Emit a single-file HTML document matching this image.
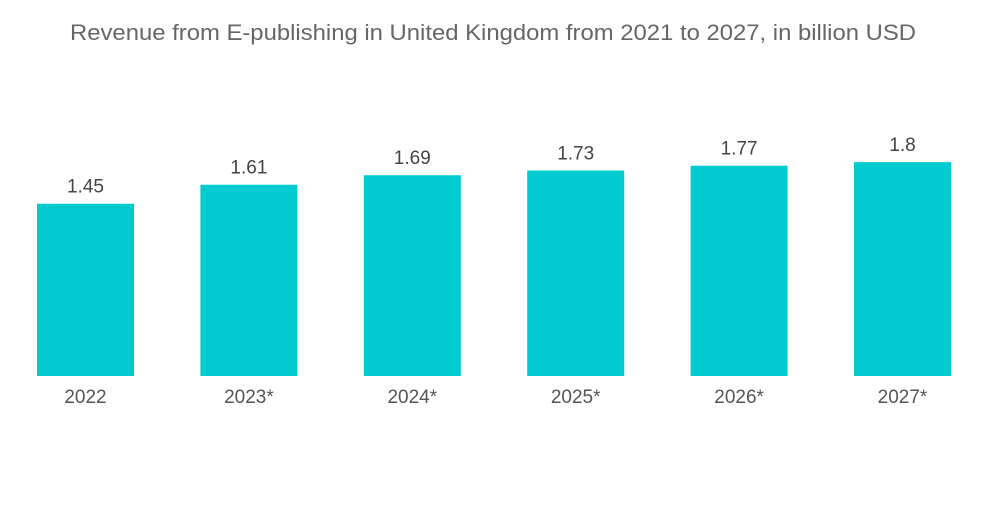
<!DOCTYPE html>
<html><head><meta charset="utf-8"><style>
body{margin:0;background:#fff;}
svg text{font-family:"Liberation Sans",sans-serif;}
</style></head><body>
<svg id="chart" width="1000" height="504">
<text x="70" y="40" font-size="22" fill="#666" textLength="846" lengthAdjust="spacingAndGlyphs">Revenue from E-publishing in United Kingdom from 2021 to 2027, in billion USD</text>
<g id="bars"></g>
</svg>
<script>
const categories=["2022","2023*","2024*","2025*","2026*","2027*"];
const values=[1.45,1.61,1.69,1.73,1.77,1.8];
const valueLabels=["1.45","1.61","1.69","1.73","1.77","1.8"];
const baseY=376, scale=118.8, x0=37, step=163.4, bw=97;
function y(v){return baseY-v*scale;}
function x(i){return x0+i*step;}
const g=document.getElementById('bars');
const ns="http://www.w3.org/2000/svg";
categories.forEach((c,i)=>{
  const r=document.createElementNS(ns,'rect');
  r.setAttribute('x',x(i));r.setAttribute('y',y(values[i]));
  r.setAttribute('width',bw);r.setAttribute('height',baseY-y(values[i]));
  r.setAttribute('fill','#00cccf');
  
  
  g.appendChild(r);
  const t=document.createElementNS(ns,'text');
  t.setAttribute('x',x(i)+bw/2);t.setAttribute('y',y(values[i])-11);
  t.setAttribute('text-anchor','middle');t.setAttribute('font-size','19');t.setAttribute('fill','#444');
  t.textContent=valueLabels[i];
  
  
  g.appendChild(t);
  const l=document.createElementNS(ns,'text');
  l.setAttribute('x',x(i)+bw/2);l.setAttribute('y',403);
  l.setAttribute('text-anchor','middle');l.setAttribute('font-size','19');l.setAttribute('fill','#555');
  l.textContent=c;
  
  
  g.appendChild(l);
});
</script>
</body></html>
